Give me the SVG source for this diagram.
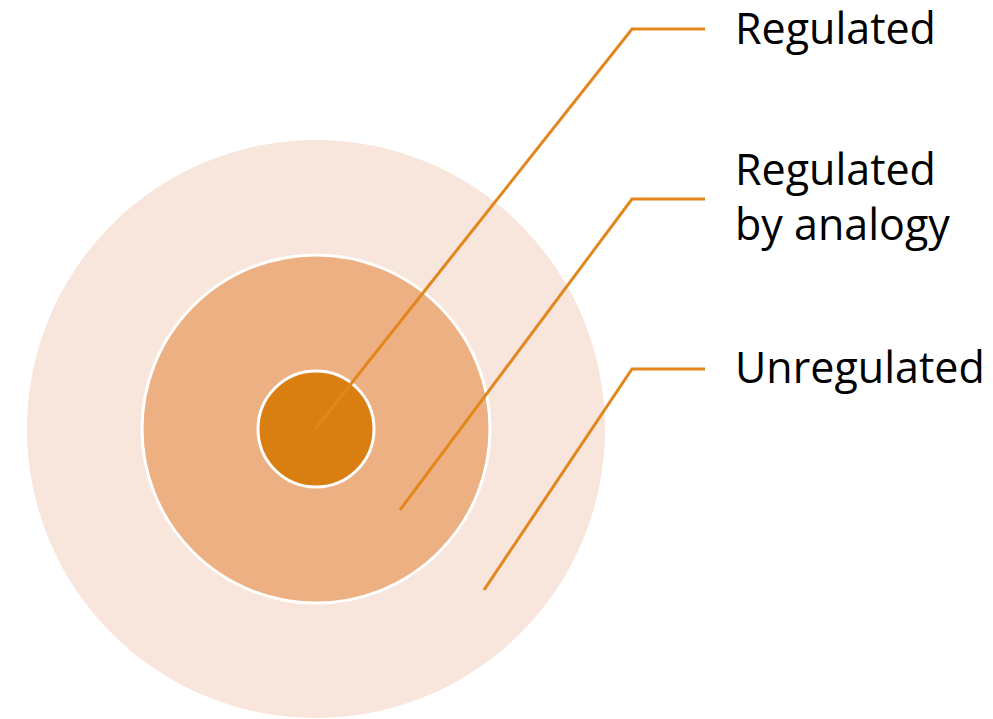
<svg xmlns="http://www.w3.org/2000/svg" width="993" height="719" viewBox="0 0 993 719">
<style>
.lbl{font-family:"Open Sans","Liberation Sans",sans-serif;font-size:43px;fill:#000}
.con{fill:none;stroke:#E3861C;stroke-width:3}
</style>
<rect width="993" height="719" fill="#fff"/>
<g id="outer"><circle cx="316" cy="429" r="289" fill="#F8E5DC"/></g>
<g id="middle"><circle cx="316" cy="429" r="174" fill="#EDB083" stroke="#fff" stroke-width="3"/></g>
<g id="inner"><circle cx="316" cy="429" r="58" fill="#D97E11" stroke="#fff" stroke-width="3"/></g>
<g id="connectors">
<polyline class="con" points="316,428 632,29 705,29"/>
<polyline class="con" points="400,510 632,199 705,199"/>
<polyline class="con" points="484,590 632,369 705,369"/>
</g>
<g id="label-regulated"><text class="lbl" x="735" y="44">Regulated</text></g>
<g id="label-analogy"><text class="lbl" x="735" y="185">Regulated</text><text class="lbl" x="735" y="240">by analogy</text></g>
<g id="label-unregulated"><text class="lbl" x="735" y="383">Unregulated</text></g>
</svg>
